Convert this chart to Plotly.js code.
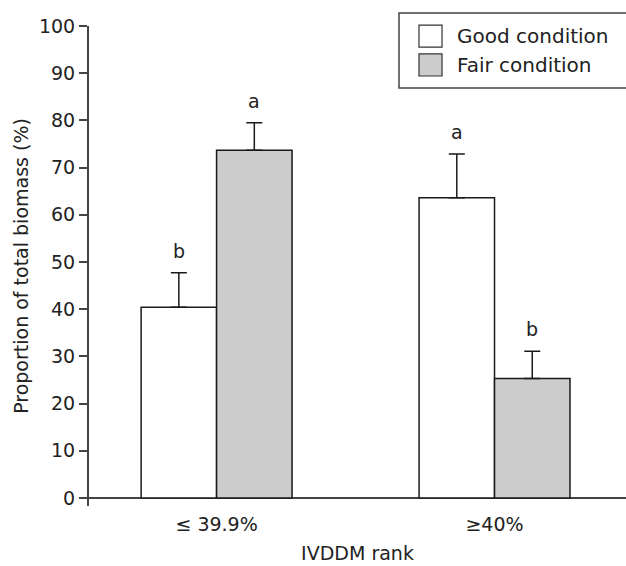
<!DOCTYPE html>
<html>
<head>
<meta charset="utf-8">
<script src="https://cdn.plot.ly/plotly-3.0.1.min.js"></script>
<style>html,body{margin:0;padding:0;background:#fff;}#chart{width:626px;height:566px;}</style>
</head>
<body>
<div id="chart"></div>
<script>
// Data
const categories = ["\u2264 39.9%", "\u226540%"];
const seriesNames = ["Good condition", "Fair condition"];
const goodValues = [40.4, 63.6];
const goodErrors = [7.3, 9.3];
const fairValues = [73.7, 25.3];
const fairErrors = [5.8, 5.8];
const goodLetters = ["b", "a"];
const fairLetters = ["a", "b"];

const FONT = "DejaVu Sans, sans-serif";
const TXT = "#222";
const FS = 19;
const catIdx = categories.map((c, i) => i);
const BARGAP = 0.457;
const half = (1 - BARGAP) / 4; // offset of each bar centre from group centre

function barTrace(name, vals, errs, fill) {
  return {
    type: "bar",
    name: name,
    x: catIdx,
    y: vals,
    marker: {color: fill, line: {color: "#1a1a1a", width: 1.5}},
    error_y: {type: "data", symmetric: false, array: errs, arrayminus: vals.map(() => 0),
              color: "#1a1a1a", thickness: 1.5, width: 8},
    showlegend: false,
    hoverinfo: "skip"
  };
}

const traces = [
  barTrace(seriesNames[0], goodValues, goodErrors, "#ffffff"),
  barTrace(seriesNames[1], fairValues, fairErrors, "#cccccc")
];

const annotations = [];
function addLetters(letters, vals, errs, off) {
  letters.forEach((t, i) => {
    annotations.push({
      x: catIdx[i] + off, y: vals[i] + errs[i], xref: "x", yref: "y",
      text: t, showarrow: false, yanchor: "bottom", yshift: 9,
      font: {family: FONT, size: FS, color: TXT}
    });
  });
}
addLetters(goodLetters, goodValues, goodErrors, -half);
addLetters(fairLetters, fairValues, fairErrors, half);

// custom legend (paper coordinates)
const legendFills = ["#ffffff", "#cccccc"];
const shapes = [
  {type: "rect", xref: "paper", yref: "paper", x0: 0.5773, x1: 1.06, y0: 0.8708, y1: 1.0271,
   line: {color: "#444", width: 1.5}, fillcolor: "rgba(0,0,0,0)"}
];
const legY = [0.979, 0.9188];
seriesNames.forEach((n, i) => {
  shapes.push({type: "rect", xref: "paper", yref: "paper", x0: 0.6145, x1: 0.6574,
    y0: legY[i] - 0.023, y1: legY[i] + 0.023,
    line: {color: "#333", width: 1.2}, fillcolor: legendFills[i]});
  annotations.push({xref: "paper", yref: "paper", x: 0.6815, y: legY[i], xanchor: "left",
    yanchor: "middle", text: n, showarrow: false,
    font: {family: FONT, size: 20, color: TXT}});
});

const layout = {
  width: 626, height: 566,
  margin: {l: 89, r: 0, t: 26, b: 60, pad: 0},
  paper_bgcolor: "#fff", plot_bgcolor: "#fff",
  font: {family: FONT, size: FS, color: TXT},
  barmode: "group", bargap: BARGAP, bargroupgap: 0,
  xaxis: {
    range: [-0.459, 1.473], tickvals: catIdx, ticktext: categories,
    showgrid: false, zeroline: false, showline: false, ticks: "",
    ticklabelstandoff: 5,
    tickfont: {family: FONT, size: FS, color: TXT},
    title: {text: "IVDDM rank", font: {family: FONT, size: FS, color: TXT}, standoff: 12},
    fixedrange: true
  },
  yaxis: {
    range: [-1.7, 100], tickvals: [0,10,20,30,40,50,60,70,80,90,100],
    showgrid: false, zeroline: true, zerolinecolor: "#444", zerolinewidth: 2,
    showline: true, linecolor: "#444", linewidth: 2,
    ticks: "outside", ticklen: 8, tickwidth: 2, tickcolor: "#444",
    tickfont: {family: FONT, size: FS, color: TXT},
    title: {text: "Proportion of total biomass (%)", font: {family: FONT, size: FS, color: TXT}, standoff: 5},
    fixedrange: true
  },
  shapes: shapes,
  annotations: annotations,
  showlegend: false
};

Plotly.newPlot("chart", traces, layout, {displayModeBar: false, staticPlot: true});
</script>
</body>
</html>
